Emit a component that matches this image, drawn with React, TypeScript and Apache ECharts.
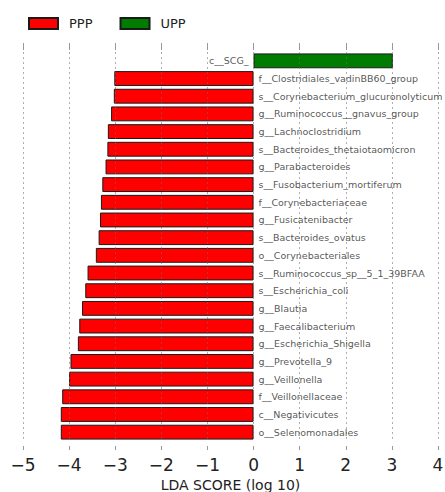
import React, { useEffect, useRef } from "react";
import * as echarts from "echarts";

const taxa: string[] = [
  "c__SCG_",
  "f__Clostridiales_vadinBB60_group",
  "s__Corynebacterium_glucuronolyticum",
  "g__Ruminococcus__gnavus_group",
  "g__Lachnoclostridium",
  "s__Bacteroides_thetaiotaomicron",
  "g__Parabacteroides",
  "s__Fusobacterium_mortiferum",
  "f__Corynebacteriaceae",
  "g__Fusicatenibacter",
  "s__Bacteroides_ovatus",
  "o__Corynebacteriales",
  "s__Ruminococcus_sp__5_1_39BFAA",
  "s__Escherichia_coli",
  "g__Blautia",
  "g__Faecalibacterium",
  "g__Escherichia_Shigella",
  "g__Prevotella_9",
  "g__Veillonella",
  "f__Veillonellaceae",
  "c__Negativicutes",
  "o__Selenomonadales",
];

const groups: string[] = ["PPP", "UPP"];

// LDA scores (signed: UPP positive, PPP negative)
const ldaScores: number[] = [
  3.02, -3.02, -3.03, -3.09, -3.16, -3.17, -3.21, -3.28, -3.31, -3.33, -3.36,
  -3.42, -3.6, -3.65, -3.72, -3.78, -3.81, -3.97, -4.0, -4.15, -4.18, -4.18,
];

const xTicks: number[] = [-5, -4, -3, -2, -1, 0, 1, 2, 3, 4];

const FONT = "DejaVu Sans";

export default function App() {
  const ref = useRef<HTMLDivElement>(null);
  useEffect(() => {
    document.body.style.margin = "0";
    if (!ref.current) return;
    const chart = echarts.init(ref.current, undefined, { renderer: "svg" });
    const pppData = ldaScores.map((v) => (v < 0 ? v : "-"));
    const uppData = ldaScores.map((v) => (v > 0 ? v : "-"));
    const labelData = ldaScores.map((v, i) => ({
      value: [0, i],
      label: {
        position: v > 0 ? "left" : "right",
        formatter: taxa[i],
      },
    }));
    const axisCommon = {
      type: "value",
      min: xTicks[0],
      max: xTicks[xTicks.length - 1],
      interval: 1,
      axisLine: { show: false },
    };
    chart.setOption({
      animation: false,
      textStyle: { fontFamily: FONT },
      legend: {
        data: groups,
        left: 23,
        top: 12,
        itemWidth: 29,
        itemHeight: 11,
        itemGap: 27,
        icon: "rect",
        textStyle: {
          fontFamily: FONT,
          fontSize: 13,
          color: "#222",
          padding: [0, 0, 0, 6],
        },
      },
      grid: {
        left: 23,
        right: 7,
        top: 52,
        bottom: 51,
        containLabel: false,
        outerBoundsMode: "none",
      },
      xAxis: [
        {
          ...axisCommon,
          position: "bottom",
          offset: 5,
          z: 3,
          axisTick: { show: true, length: 4, lineStyle: { color: "#999" } },
          axisLabel: {
            fontFamily: FONT,
            fontSize: 17,
            color: "#222",
            margin: 10,
            formatter: (v: number) => (v < 0 ? "\u2212" + Math.abs(v) : String(v)),
          },
          splitLine: {
            show: true,
            lineStyle: { type: [2, 3], color: "rgba(110,110,110,0.55)", width: 1 },
          },
          name: "LDA SCORE (log 10)",
          nameLocation: "middle",
          nameGap: 29,
          nameTextStyle: { fontFamily: FONT, fontSize: 14, color: "#222" },
        },
        {
          ...axisCommon,
          position: "top",
          offset: 2,
          axisTick: { show: true, length: 7, lineStyle: { color: "#999" } },
          axisLabel: { show: false },
          splitLine: { show: false },
        },
      ],
      yAxis: {
        type: "category",
        data: taxa,
        inverse: true,
        axisLine: { show: false },
        axisTick: { show: false },
        axisLabel: { show: false },
        splitLine: { show: false },
      },
      series: [
        {
          name: groups[0],
          type: "bar",
          stack: "lda",
          barWidth: "84%",
          data: pppData,
          itemStyle: { color: "#ff0000", borderColor: "#1a1a1a", borderWidth: 1 },
        },
        {
          name: groups[1],
          type: "bar",
          stack: "lda",
          barWidth: "84%",
          data: uppData,
          itemStyle: { color: "#007d00", borderColor: "#1a1a1a", borderWidth: 1 },
        },
        {
          type: "scatter",
          symbolSize: 0,
          silent: true,
          z: 5,
          data: labelData,
          label: {
            show: true,
            distance: 5,
            fontFamily: FONT,
            fontSize: 9.5,
            color: "#2a2a2a",
          },
        },
      ],
    });
    return () => chart.dispose();
  }, []);
  return <div ref={ref} style={{ width: 445, height: 492 }} />;
}
